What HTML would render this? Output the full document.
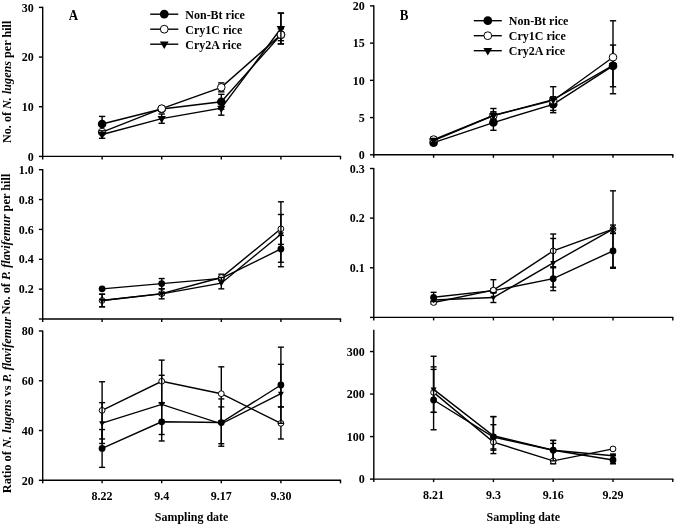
<!DOCTYPE html>
<html><head><meta charset="utf-8"><style>
html,body{margin:0;padding:0;background:#fff;}
svg{display:block;will-change:transform;}
text{font-family:"Liberation Serif", serif;font-weight:bold;fill:#000;stroke:none;}
</style></head><body>
<svg width="675" height="526" viewBox="0 0 675 526">
<rect width="675" height="526" fill="#fff"/>
<g stroke="#000" fill="none">
<line x1="42.70" y1="6.80" x2="42.70" y2="159.40" stroke-width="1.4"/>
<line x1="42.10" y1="156.40" x2="341.10" y2="156.40" stroke-width="1.4"/>
<line x1="38.90" y1="156.40" x2="42.70" y2="156.40" stroke-width="1.4"/>
<line x1="38.90" y1="106.73" x2="42.70" y2="106.73" stroke-width="1.4"/>
<line x1="38.90" y1="57.07" x2="42.70" y2="57.07" stroke-width="1.4"/>
<line x1="38.90" y1="7.40" x2="42.70" y2="7.40" stroke-width="1.4"/>
<text transform="translate(33.70,160.60) scale(1,1.04)" text-anchor="end" font-size="12" >0</text>
<text transform="translate(33.70,110.93) scale(1,1.04)" text-anchor="end" font-size="12" >10</text>
<text transform="translate(33.70,61.27) scale(1,1.04)" text-anchor="end" font-size="12" >20</text>
<text transform="translate(33.70,11.60) scale(1,1.04)" text-anchor="end" font-size="12" >30</text>
<line x1="102.10" y1="156.40" x2="102.10" y2="159.40" stroke-width="1.4"/>
<line x1="161.70" y1="156.40" x2="161.70" y2="159.40" stroke-width="1.4"/>
<line x1="221.30" y1="156.40" x2="221.30" y2="159.40" stroke-width="1.4"/>
<line x1="280.90" y1="156.40" x2="280.90" y2="159.40" stroke-width="1.4"/>
<line x1="340.50" y1="156.40" x2="340.50" y2="159.40" stroke-width="1.4"/>
<line x1="42.70" y1="169.10" x2="42.70" y2="322.00" stroke-width="1.4"/>
<line x1="42.10" y1="319.00" x2="341.10" y2="319.00" stroke-width="1.4"/>
<line x1="38.90" y1="319.00" x2="42.70" y2="319.00" stroke-width="1.4"/>
<line x1="38.90" y1="289.14" x2="42.70" y2="289.14" stroke-width="1.4"/>
<line x1="38.90" y1="259.28" x2="42.70" y2="259.28" stroke-width="1.4"/>
<line x1="38.90" y1="229.42" x2="42.70" y2="229.42" stroke-width="1.4"/>
<line x1="38.90" y1="199.56" x2="42.70" y2="199.56" stroke-width="1.4"/>
<line x1="38.90" y1="169.70" x2="42.70" y2="169.70" stroke-width="1.4"/>
<text transform="translate(33.70,293.34) scale(1,1.04)" text-anchor="end" font-size="12" >0.2</text>
<text transform="translate(33.70,263.48) scale(1,1.04)" text-anchor="end" font-size="12" >0.4</text>
<text transform="translate(33.70,233.62) scale(1,1.04)" text-anchor="end" font-size="12" >0.6</text>
<text transform="translate(33.70,203.76) scale(1,1.04)" text-anchor="end" font-size="12" >0.8</text>
<text transform="translate(33.70,173.90) scale(1,1.04)" text-anchor="end" font-size="12" >1.0</text>
<line x1="102.10" y1="319.00" x2="102.10" y2="322.00" stroke-width="1.4"/>
<line x1="161.70" y1="319.00" x2="161.70" y2="322.00" stroke-width="1.4"/>
<line x1="221.30" y1="319.00" x2="221.30" y2="322.00" stroke-width="1.4"/>
<line x1="280.90" y1="319.00" x2="280.90" y2="322.00" stroke-width="1.4"/>
<line x1="340.50" y1="319.00" x2="340.50" y2="322.00" stroke-width="1.4"/>
<line x1="42.70" y1="330.40" x2="42.70" y2="483.30" stroke-width="1.4"/>
<line x1="42.10" y1="480.30" x2="341.10" y2="480.30" stroke-width="1.4"/>
<line x1="38.90" y1="480.30" x2="42.70" y2="480.30" stroke-width="1.4"/>
<line x1="38.90" y1="430.53" x2="42.70" y2="430.53" stroke-width="1.4"/>
<line x1="38.90" y1="380.77" x2="42.70" y2="380.77" stroke-width="1.4"/>
<line x1="38.90" y1="331.00" x2="42.70" y2="331.00" stroke-width="1.4"/>
<text transform="translate(33.70,484.50) scale(1,1.04)" text-anchor="end" font-size="12" >20</text>
<text transform="translate(33.70,434.73) scale(1,1.04)" text-anchor="end" font-size="12" >40</text>
<text transform="translate(33.70,384.97) scale(1,1.04)" text-anchor="end" font-size="12" >60</text>
<text transform="translate(33.70,335.20) scale(1,1.04)" text-anchor="end" font-size="12" >80</text>
<line x1="102.10" y1="480.30" x2="102.10" y2="483.30" stroke-width="1.4"/>
<line x1="161.70" y1="480.30" x2="161.70" y2="483.30" stroke-width="1.4"/>
<line x1="221.30" y1="480.30" x2="221.30" y2="483.30" stroke-width="1.4"/>
<line x1="280.90" y1="480.30" x2="280.90" y2="483.30" stroke-width="1.4"/>
<line x1="340.50" y1="480.30" x2="340.50" y2="483.30" stroke-width="1.4"/>
<line x1="373.80" y1="5.30" x2="373.80" y2="157.80" stroke-width="1.4"/>
<line x1="373.20" y1="154.80" x2="673.40" y2="154.80" stroke-width="1.4"/>
<line x1="370.00" y1="154.80" x2="373.80" y2="154.80" stroke-width="1.4"/>
<line x1="370.00" y1="117.58" x2="373.80" y2="117.58" stroke-width="1.4"/>
<line x1="370.00" y1="80.35" x2="373.80" y2="80.35" stroke-width="1.4"/>
<line x1="370.00" y1="43.13" x2="373.80" y2="43.13" stroke-width="1.4"/>
<line x1="370.00" y1="5.90" x2="373.80" y2="5.90" stroke-width="1.4"/>
<text transform="translate(364.80,159.00) scale(1,1.04)" text-anchor="end" font-size="12" >0</text>
<text transform="translate(364.80,121.78) scale(1,1.04)" text-anchor="end" font-size="12" >5</text>
<text transform="translate(364.80,84.55) scale(1,1.04)" text-anchor="end" font-size="12" >10</text>
<text transform="translate(364.80,47.33) scale(1,1.04)" text-anchor="end" font-size="12" >15</text>
<text transform="translate(364.80,10.10) scale(1,1.04)" text-anchor="end" font-size="12" >20</text>
<line x1="433.60" y1="154.80" x2="433.60" y2="157.80" stroke-width="1.4"/>
<line x1="493.40" y1="154.80" x2="493.40" y2="157.80" stroke-width="1.4"/>
<line x1="553.20" y1="154.80" x2="553.20" y2="157.80" stroke-width="1.4"/>
<line x1="613.00" y1="154.80" x2="613.00" y2="157.80" stroke-width="1.4"/>
<line x1="672.80" y1="154.80" x2="672.80" y2="157.80" stroke-width="1.4"/>
<line x1="373.80" y1="167.90" x2="373.80" y2="320.40" stroke-width="1.4"/>
<line x1="373.20" y1="317.40" x2="673.40" y2="317.40" stroke-width="1.4"/>
<line x1="370.00" y1="317.40" x2="373.80" y2="317.40" stroke-width="1.4"/>
<line x1="370.00" y1="267.77" x2="373.80" y2="267.77" stroke-width="1.4"/>
<line x1="370.00" y1="218.13" x2="373.80" y2="218.13" stroke-width="1.4"/>
<line x1="370.00" y1="168.50" x2="373.80" y2="168.50" stroke-width="1.4"/>
<text transform="translate(364.80,271.97) scale(1,1.04)" text-anchor="end" font-size="12" >0.1</text>
<text transform="translate(364.80,222.33) scale(1,1.04)" text-anchor="end" font-size="12" >0.2</text>
<text transform="translate(364.80,172.70) scale(1,1.04)" text-anchor="end" font-size="12" >0.3</text>
<line x1="433.60" y1="317.40" x2="433.60" y2="320.40" stroke-width="1.4"/>
<line x1="493.40" y1="317.40" x2="493.40" y2="320.40" stroke-width="1.4"/>
<line x1="553.20" y1="317.40" x2="553.20" y2="320.40" stroke-width="1.4"/>
<line x1="613.00" y1="317.40" x2="613.00" y2="320.40" stroke-width="1.4"/>
<line x1="672.80" y1="317.40" x2="672.80" y2="320.40" stroke-width="1.4"/>
<line x1="373.80" y1="329.70" x2="373.80" y2="482.10" stroke-width="1.4"/>
<line x1="373.20" y1="479.10" x2="673.40" y2="479.10" stroke-width="1.4"/>
<line x1="370.00" y1="479.10" x2="373.80" y2="479.10" stroke-width="1.4"/>
<line x1="370.00" y1="436.59" x2="373.80" y2="436.59" stroke-width="1.4"/>
<line x1="370.00" y1="394.07" x2="373.80" y2="394.07" stroke-width="1.4"/>
<line x1="370.00" y1="351.56" x2="373.80" y2="351.56" stroke-width="1.4"/>
<text transform="translate(364.80,483.30) scale(1,1.04)" text-anchor="end" font-size="12" >0</text>
<text transform="translate(364.80,440.79) scale(1,1.04)" text-anchor="end" font-size="12" >100</text>
<text transform="translate(364.80,398.27) scale(1,1.04)" text-anchor="end" font-size="12" >200</text>
<text transform="translate(364.80,355.76) scale(1,1.04)" text-anchor="end" font-size="12" >300</text>
<line x1="433.60" y1="479.10" x2="433.60" y2="482.10" stroke-width="1.4"/>
<line x1="493.40" y1="479.10" x2="493.40" y2="482.10" stroke-width="1.4"/>
<line x1="553.20" y1="479.10" x2="553.20" y2="482.10" stroke-width="1.4"/>
<line x1="613.00" y1="479.10" x2="613.00" y2="482.10" stroke-width="1.4"/>
<line x1="672.80" y1="479.10" x2="672.80" y2="482.10" stroke-width="1.4"/>
<line x1="102.10" y1="116.42" x2="102.10" y2="131.52" stroke-width="1.4"/>
<line x1="98.95" y1="116.42" x2="105.25" y2="116.42" stroke-width="1.4"/>
<line x1="98.95" y1="131.52" x2="105.25" y2="131.52" stroke-width="1.4"/>
<line x1="161.70" y1="106.98" x2="161.70" y2="110.95" stroke-width="1.4"/>
<line x1="158.55" y1="106.98" x2="164.85" y2="106.98" stroke-width="1.4"/>
<line x1="158.55" y1="110.95" x2="164.85" y2="110.95" stroke-width="1.4"/>
<line x1="221.30" y1="94.32" x2="221.30" y2="109.22" stroke-width="1.4"/>
<line x1="218.15" y1="94.32" x2="224.45" y2="94.32" stroke-width="1.4"/>
<line x1="218.15" y1="109.22" x2="224.45" y2="109.22" stroke-width="1.4"/>
<line x1="280.90" y1="32.23" x2="280.90" y2="37.20" stroke-width="1.4"/>
<line x1="277.75" y1="32.23" x2="284.05" y2="32.23" stroke-width="1.4"/>
<line x1="277.75" y1="37.20" x2="284.05" y2="37.20" stroke-width="1.4"/>
<polyline points="102.10,123.97 161.70,108.97 221.30,101.77 280.90,34.72" fill="none" stroke-width="1.4"/>
<circle cx="102.10" cy="123.97" r="4.30" fill="#000" stroke="none"/>
<circle cx="161.70" cy="108.97" r="4.30" fill="#000" stroke="none"/>
<circle cx="221.30" cy="101.77" r="4.30" fill="#000" stroke="none"/>
<circle cx="280.90" cy="34.72" r="4.30" fill="#000" stroke="none"/>
<line x1="102.10" y1="130.57" x2="102.10" y2="133.55" stroke-width="1.4"/>
<line x1="98.95" y1="130.57" x2="105.25" y2="130.57" stroke-width="1.4"/>
<line x1="98.95" y1="133.55" x2="105.25" y2="133.55" stroke-width="1.4"/>
<line x1="161.70" y1="106.63" x2="161.70" y2="110.61" stroke-width="1.4"/>
<line x1="158.55" y1="106.63" x2="164.85" y2="106.63" stroke-width="1.4"/>
<line x1="158.55" y1="110.61" x2="164.85" y2="110.61" stroke-width="1.4"/>
<line x1="221.30" y1="82.89" x2="221.30" y2="91.83" stroke-width="1.4"/>
<line x1="218.15" y1="82.89" x2="224.45" y2="82.89" stroke-width="1.4"/>
<line x1="218.15" y1="91.83" x2="224.45" y2="91.83" stroke-width="1.4"/>
<line x1="280.90" y1="28.76" x2="280.90" y2="40.68" stroke-width="1.4"/>
<line x1="277.75" y1="28.76" x2="284.05" y2="28.76" stroke-width="1.4"/>
<line x1="277.75" y1="40.68" x2="284.05" y2="40.68" stroke-width="1.4"/>
<polyline points="102.10,132.06 161.70,108.62 221.30,87.36 280.90,34.72" fill="none" stroke-width="1.4"/>
<circle cx="102.10" cy="132.06" r="3.80" fill="#fff" stroke="#000" stroke-width="1"/>
<circle cx="161.70" cy="108.62" r="3.80" fill="#fff" stroke="#000" stroke-width="1"/>
<circle cx="221.30" cy="87.36" r="3.80" fill="#fff" stroke="#000" stroke-width="1"/>
<circle cx="280.90" cy="34.72" r="3.80" fill="#fff" stroke="#000" stroke-width="1"/>
<line x1="102.10" y1="130.82" x2="102.10" y2="138.27" stroke-width="1.4"/>
<line x1="98.95" y1="130.82" x2="105.25" y2="130.82" stroke-width="1.4"/>
<line x1="98.95" y1="138.27" x2="105.25" y2="138.27" stroke-width="1.4"/>
<line x1="161.70" y1="114.03" x2="161.70" y2="123.27" stroke-width="1.4"/>
<line x1="158.55" y1="114.03" x2="164.85" y2="114.03" stroke-width="1.4"/>
<line x1="158.55" y1="123.27" x2="164.85" y2="123.27" stroke-width="1.4"/>
<line x1="221.30" y1="101.27" x2="221.30" y2="115.18" stroke-width="1.4"/>
<line x1="218.15" y1="101.27" x2="224.45" y2="101.27" stroke-width="1.4"/>
<line x1="218.15" y1="115.18" x2="224.45" y2="115.18" stroke-width="1.4"/>
<line x1="280.90" y1="13.11" x2="280.90" y2="43.91" stroke-width="1.4"/>
<line x1="277.75" y1="13.11" x2="284.05" y2="13.11" stroke-width="1.4"/>
<line x1="277.75" y1="43.91" x2="284.05" y2="43.91" stroke-width="1.4"/>
<polyline points="102.10,134.55 161.70,118.65 221.30,108.22 280.90,28.51" fill="none" stroke-width="1.4"/>
<path d="M97.90,131.98 L106.30,131.98 L102.10,139.21 Z" fill="#000" stroke="none"/>
<path d="M157.50,116.09 L165.90,116.09 L161.70,123.31 Z" fill="#000" stroke="none"/>
<path d="M217.10,105.66 L225.50,105.66 L221.30,112.88 Z" fill="#000" stroke="none"/>
<path d="M276.70,25.94 L285.10,25.94 L280.90,33.17 Z" fill="#000" stroke="none"/>
<circle cx="280.90" cy="34.72" r="3.80" fill="#fff" stroke="#000" stroke-width="1"/>
<line x1="280.90" y1="13.11" x2="280.90" y2="43.91" stroke-width="1.4"/>
<line x1="277.75" y1="13.11" x2="284.05" y2="13.11" stroke-width="1.4"/>
<line x1="277.75" y1="43.91" x2="284.05" y2="43.91" stroke-width="1.4"/>
<line x1="161.70" y1="278.54" x2="161.70" y2="288.69" stroke-width="1.4"/>
<line x1="158.70" y1="278.54" x2="164.70" y2="278.54" stroke-width="1.4"/>
<line x1="158.70" y1="288.69" x2="164.70" y2="288.69" stroke-width="1.4"/>
<line x1="221.30" y1="276.90" x2="221.30" y2="279.88" stroke-width="1.4"/>
<line x1="218.30" y1="276.90" x2="224.30" y2="276.90" stroke-width="1.4"/>
<line x1="218.30" y1="279.88" x2="224.30" y2="279.88" stroke-width="1.4"/>
<line x1="280.90" y1="235.39" x2="280.90" y2="262.27" stroke-width="1.4"/>
<line x1="277.90" y1="235.39" x2="283.90" y2="235.39" stroke-width="1.4"/>
<line x1="277.90" y1="262.27" x2="283.90" y2="262.27" stroke-width="1.4"/>
<polyline points="102.10,288.84 161.70,283.62 221.30,278.39 280.90,248.98" fill="none" stroke-width="1.4"/>
<circle cx="102.10" cy="288.84" r="3.40" fill="#000" stroke="none"/>
<circle cx="161.70" cy="283.62" r="3.40" fill="#000" stroke="none"/>
<circle cx="221.30" cy="278.39" r="3.40" fill="#000" stroke="none"/>
<circle cx="280.90" cy="248.98" r="3.40" fill="#000" stroke="none"/>
<line x1="102.10" y1="294.22" x2="102.10" y2="306.76" stroke-width="1.4"/>
<line x1="99.10" y1="294.22" x2="105.10" y2="294.22" stroke-width="1.4"/>
<line x1="99.10" y1="306.76" x2="105.10" y2="306.76" stroke-width="1.4"/>
<line x1="161.70" y1="292.13" x2="161.70" y2="295.11" stroke-width="1.4"/>
<line x1="158.70" y1="292.13" x2="164.70" y2="292.13" stroke-width="1.4"/>
<line x1="158.70" y1="295.11" x2="164.70" y2="295.11" stroke-width="1.4"/>
<line x1="221.30" y1="274.21" x2="221.30" y2="280.18" stroke-width="1.4"/>
<line x1="218.30" y1="274.21" x2="224.30" y2="274.21" stroke-width="1.4"/>
<line x1="218.30" y1="280.18" x2="224.30" y2="280.18" stroke-width="1.4"/>
<line x1="280.90" y1="201.80" x2="280.90" y2="266.75" stroke-width="1.4"/>
<line x1="277.90" y1="201.80" x2="283.90" y2="201.80" stroke-width="1.4"/>
<line x1="277.90" y1="266.75" x2="283.90" y2="266.75" stroke-width="1.4"/>
<polyline points="102.10,300.49 161.70,293.62 221.30,277.49 280.90,228.82" fill="none" stroke-width="1.4"/>
<circle cx="102.10" cy="300.49" r="2.90" fill="#fff" stroke="#000" stroke-width="1"/>
<circle cx="161.70" cy="293.62" r="2.90" fill="#fff" stroke="#000" stroke-width="1"/>
<circle cx="221.30" cy="277.49" r="2.90" fill="#fff" stroke="#000" stroke-width="1"/>
<circle cx="280.90" cy="228.82" r="2.90" fill="#fff" stroke="#000" stroke-width="1"/>
<line x1="102.10" y1="294.22" x2="102.10" y2="306.76" stroke-width="1.4"/>
<line x1="99.10" y1="294.22" x2="105.10" y2="294.22" stroke-width="1.4"/>
<line x1="99.10" y1="306.76" x2="105.10" y2="306.76" stroke-width="1.4"/>
<line x1="161.70" y1="288.99" x2="161.70" y2="298.84" stroke-width="1.4"/>
<line x1="158.70" y1="288.99" x2="164.70" y2="288.99" stroke-width="1.4"/>
<line x1="158.70" y1="298.84" x2="164.70" y2="298.84" stroke-width="1.4"/>
<line x1="221.30" y1="277.49" x2="221.30" y2="288.84" stroke-width="1.4"/>
<line x1="218.30" y1="277.49" x2="224.30" y2="277.49" stroke-width="1.4"/>
<line x1="218.30" y1="288.84" x2="224.30" y2="288.84" stroke-width="1.4"/>
<line x1="280.90" y1="214.49" x2="280.90" y2="244.35" stroke-width="1.4"/>
<line x1="277.90" y1="214.49" x2="283.90" y2="214.49" stroke-width="1.4"/>
<line x1="277.90" y1="244.35" x2="283.90" y2="244.35" stroke-width="1.4"/>
<polyline points="102.10,300.49 161.70,293.92 221.30,283.17 280.90,234.20" fill="none" stroke-width="1.4"/>
<path d="M99.10,298.66 L105.10,298.66 L102.10,303.82 Z" fill="#000" stroke="none"/>
<path d="M158.70,292.09 L164.70,292.09 L161.70,297.25 Z" fill="#000" stroke="none"/>
<path d="M218.30,281.34 L224.30,281.34 L221.30,286.50 Z" fill="#000" stroke="none"/>
<path d="M277.90,232.37 L283.90,232.37 L280.90,237.53 Z" fill="#000" stroke="none"/>
<line x1="102.10" y1="429.54" x2="102.10" y2="467.36" stroke-width="1.4"/>
<line x1="99.10" y1="429.54" x2="105.10" y2="429.54" stroke-width="1.4"/>
<line x1="99.10" y1="467.36" x2="105.10" y2="467.36" stroke-width="1.4"/>
<line x1="161.70" y1="402.66" x2="161.70" y2="440.98" stroke-width="1.4"/>
<line x1="158.70" y1="402.66" x2="164.70" y2="402.66" stroke-width="1.4"/>
<line x1="158.70" y1="440.98" x2="164.70" y2="440.98" stroke-width="1.4"/>
<line x1="221.30" y1="398.93" x2="221.30" y2="446.21" stroke-width="1.4"/>
<line x1="218.30" y1="398.93" x2="224.30" y2="398.93" stroke-width="1.4"/>
<line x1="218.30" y1="446.21" x2="224.30" y2="446.21" stroke-width="1.4"/>
<line x1="280.90" y1="364.34" x2="280.90" y2="406.89" stroke-width="1.4"/>
<line x1="277.90" y1="364.34" x2="283.90" y2="364.34" stroke-width="1.4"/>
<line x1="277.90" y1="406.89" x2="283.90" y2="406.89" stroke-width="1.4"/>
<polyline points="102.10,448.45 161.70,421.82 221.30,422.57 280.90,385.00" fill="none" stroke-width="1.4"/>
<circle cx="102.10" cy="448.45" r="3.40" fill="#000" stroke="none"/>
<circle cx="161.70" cy="421.82" r="3.40" fill="#000" stroke="none"/>
<circle cx="221.30" cy="422.57" r="3.40" fill="#000" stroke="none"/>
<circle cx="280.90" cy="385.00" r="3.40" fill="#000" stroke="none"/>
<line x1="102.10" y1="381.76" x2="102.10" y2="438.99" stroke-width="1.4"/>
<line x1="99.10" y1="381.76" x2="105.10" y2="381.76" stroke-width="1.4"/>
<line x1="99.10" y1="438.99" x2="105.10" y2="438.99" stroke-width="1.4"/>
<line x1="161.70" y1="360.11" x2="161.70" y2="402.66" stroke-width="1.4"/>
<line x1="158.70" y1="360.11" x2="164.70" y2="360.11" stroke-width="1.4"/>
<line x1="158.70" y1="402.66" x2="164.70" y2="402.66" stroke-width="1.4"/>
<line x1="221.30" y1="366.83" x2="221.30" y2="420.83" stroke-width="1.4"/>
<line x1="218.30" y1="366.83" x2="224.30" y2="366.83" stroke-width="1.4"/>
<line x1="218.30" y1="420.83" x2="224.30" y2="420.83" stroke-width="1.4"/>
<line x1="280.90" y1="406.89" x2="280.90" y2="438.99" stroke-width="1.4"/>
<line x1="277.90" y1="406.89" x2="283.90" y2="406.89" stroke-width="1.4"/>
<line x1="277.90" y1="438.99" x2="283.90" y2="438.99" stroke-width="1.4"/>
<polyline points="102.10,410.38 161.70,381.26 221.30,393.71 280.90,423.32" fill="none" stroke-width="1.4"/>
<circle cx="102.10" cy="410.38" r="2.90" fill="#fff" stroke="#000" stroke-width="1"/>
<circle cx="161.70" cy="381.26" r="2.90" fill="#fff" stroke="#000" stroke-width="1"/>
<circle cx="221.30" cy="393.71" r="2.90" fill="#fff" stroke="#000" stroke-width="1"/>
<circle cx="280.90" cy="423.32" r="2.90" fill="#fff" stroke="#000" stroke-width="1"/>
<line x1="102.10" y1="402.66" x2="102.10" y2="443.47" stroke-width="1.4"/>
<line x1="99.10" y1="402.66" x2="105.10" y2="402.66" stroke-width="1.4"/>
<line x1="99.10" y1="443.47" x2="105.10" y2="443.47" stroke-width="1.4"/>
<line x1="161.70" y1="375.29" x2="161.70" y2="434.51" stroke-width="1.4"/>
<line x1="158.70" y1="375.29" x2="164.70" y2="375.29" stroke-width="1.4"/>
<line x1="158.70" y1="434.51" x2="164.70" y2="434.51" stroke-width="1.4"/>
<line x1="221.30" y1="406.89" x2="221.30" y2="443.72" stroke-width="1.4"/>
<line x1="218.30" y1="406.89" x2="224.30" y2="406.89" stroke-width="1.4"/>
<line x1="218.30" y1="443.72" x2="224.30" y2="443.72" stroke-width="1.4"/>
<line x1="280.90" y1="347.17" x2="280.90" y2="423.32" stroke-width="1.4"/>
<line x1="277.90" y1="347.17" x2="283.90" y2="347.17" stroke-width="1.4"/>
<line x1="277.90" y1="423.32" x2="283.90" y2="423.32" stroke-width="1.4"/>
<polyline points="102.10,423.07 161.70,404.41 221.30,423.81 280.90,393.71" fill="none" stroke-width="1.4"/>
<path d="M99.10,421.24 L105.10,421.24 L102.10,426.40 Z" fill="#000" stroke="none"/>
<path d="M158.70,402.57 L164.70,402.57 L161.70,407.73 Z" fill="#000" stroke="none"/>
<path d="M218.30,421.98 L224.30,421.98 L221.30,427.14 Z" fill="#000" stroke="none"/>
<path d="M277.90,391.87 L283.90,391.87 L280.90,397.03 Z" fill="#000" stroke="none"/>
<line x1="433.60" y1="140.43" x2="433.60" y2="144.90" stroke-width="1.4"/>
<line x1="430.45" y1="140.43" x2="436.75" y2="140.43" stroke-width="1.4"/>
<line x1="430.45" y1="144.90" x2="436.75" y2="144.90" stroke-width="1.4"/>
<line x1="493.40" y1="114.82" x2="493.40" y2="130.31" stroke-width="1.4"/>
<line x1="490.25" y1="114.82" x2="496.55" y2="114.82" stroke-width="1.4"/>
<line x1="490.25" y1="130.31" x2="496.55" y2="130.31" stroke-width="1.4"/>
<line x1="553.20" y1="98.22" x2="553.20" y2="110.43" stroke-width="1.4"/>
<line x1="550.05" y1="98.22" x2="556.35" y2="98.22" stroke-width="1.4"/>
<line x1="550.05" y1="110.43" x2="556.35" y2="110.43" stroke-width="1.4"/>
<line x1="613.00" y1="45.06" x2="613.00" y2="86.75" stroke-width="1.4"/>
<line x1="609.85" y1="45.06" x2="616.15" y2="45.06" stroke-width="1.4"/>
<line x1="609.85" y1="86.75" x2="616.15" y2="86.75" stroke-width="1.4"/>
<polyline points="433.60,142.66 493.40,122.56 553.20,104.32 613.00,65.91" fill="none" stroke-width="1.4"/>
<circle cx="433.60" cy="142.66" r="4.30" fill="#000" stroke="none"/>
<circle cx="493.40" cy="122.56" r="4.30" fill="#000" stroke="none"/>
<circle cx="553.20" cy="104.32" r="4.30" fill="#000" stroke="none"/>
<circle cx="613.00" cy="65.91" r="4.30" fill="#000" stroke="none"/>
<line x1="433.60" y1="137.30" x2="433.60" y2="141.77" stroke-width="1.4"/>
<line x1="430.45" y1="137.30" x2="436.75" y2="137.30" stroke-width="1.4"/>
<line x1="430.45" y1="141.77" x2="436.75" y2="141.77" stroke-width="1.4"/>
<line x1="493.40" y1="108.49" x2="493.40" y2="122.49" stroke-width="1.4"/>
<line x1="490.25" y1="108.49" x2="496.55" y2="108.49" stroke-width="1.4"/>
<line x1="490.25" y1="122.49" x2="496.55" y2="122.49" stroke-width="1.4"/>
<line x1="553.20" y1="96.73" x2="553.20" y2="104.17" stroke-width="1.4"/>
<line x1="550.05" y1="96.73" x2="556.35" y2="96.73" stroke-width="1.4"/>
<line x1="550.05" y1="104.17" x2="556.35" y2="104.17" stroke-width="1.4"/>
<line x1="613.00" y1="20.79" x2="613.00" y2="93.75" stroke-width="1.4"/>
<line x1="609.85" y1="20.79" x2="616.15" y2="20.79" stroke-width="1.4"/>
<line x1="609.85" y1="93.75" x2="616.15" y2="93.75" stroke-width="1.4"/>
<polyline points="433.60,139.54 493.40,115.49 553.20,100.45 613.00,57.27" fill="none" stroke-width="1.4"/>
<circle cx="433.60" cy="139.54" r="3.80" fill="#fff" stroke="#000" stroke-width="1"/>
<circle cx="493.40" cy="115.49" r="3.80" fill="#fff" stroke="#000" stroke-width="1"/>
<circle cx="553.20" cy="100.45" r="3.80" fill="#fff" stroke="#000" stroke-width="1"/>
<circle cx="613.00" cy="57.27" r="3.80" fill="#fff" stroke="#000" stroke-width="1"/>
<line x1="433.60" y1="138.42" x2="433.60" y2="142.89" stroke-width="1.4"/>
<line x1="430.45" y1="138.42" x2="436.75" y2="138.42" stroke-width="1.4"/>
<line x1="430.45" y1="142.89" x2="436.75" y2="142.89" stroke-width="1.4"/>
<line x1="493.40" y1="111.77" x2="493.40" y2="119.21" stroke-width="1.4"/>
<line x1="490.25" y1="111.77" x2="496.55" y2="111.77" stroke-width="1.4"/>
<line x1="490.25" y1="119.21" x2="496.55" y2="119.21" stroke-width="1.4"/>
<line x1="553.20" y1="86.68" x2="553.20" y2="112.74" stroke-width="1.4"/>
<line x1="550.05" y1="86.68" x2="556.35" y2="86.68" stroke-width="1.4"/>
<line x1="550.05" y1="112.74" x2="556.35" y2="112.74" stroke-width="1.4"/>
<line x1="613.00" y1="63.23" x2="613.00" y2="67.69" stroke-width="1.4"/>
<line x1="609.85" y1="63.23" x2="616.15" y2="63.23" stroke-width="1.4"/>
<line x1="609.85" y1="67.69" x2="616.15" y2="67.69" stroke-width="1.4"/>
<polyline points="433.60,140.65 493.40,115.49 553.20,99.71 613.00,65.46" fill="none" stroke-width="1.4"/>
<path d="M429.40,138.09 L437.80,138.09 L433.60,145.31 Z" fill="#000" stroke="none"/>
<path d="M489.20,112.93 L497.60,112.93 L493.40,120.15 Z" fill="#000" stroke="none"/>
<path d="M549.00,97.14 L557.40,97.14 L553.20,104.37 Z" fill="#000" stroke="none"/>
<path d="M608.80,62.90 L617.20,62.90 L613.00,70.12 Z" fill="#000" stroke="none"/>
<line x1="433.60" y1="292.34" x2="433.60" y2="302.26" stroke-width="1.4"/>
<line x1="430.60" y1="292.34" x2="436.60" y2="292.34" stroke-width="1.4"/>
<line x1="430.60" y1="302.26" x2="436.60" y2="302.26" stroke-width="1.4"/>
<line x1="493.40" y1="288.61" x2="493.40" y2="292.58" stroke-width="1.4"/>
<line x1="490.40" y1="288.61" x2="496.40" y2="288.61" stroke-width="1.4"/>
<line x1="490.40" y1="292.58" x2="496.40" y2="292.58" stroke-width="1.4"/>
<line x1="553.20" y1="266.77" x2="553.20" y2="290.60" stroke-width="1.4"/>
<line x1="550.20" y1="266.77" x2="556.20" y2="266.77" stroke-width="1.4"/>
<line x1="550.20" y1="290.60" x2="556.20" y2="290.60" stroke-width="1.4"/>
<line x1="613.00" y1="233.52" x2="613.00" y2="268.26" stroke-width="1.4"/>
<line x1="610.00" y1="233.52" x2="616.00" y2="233.52" stroke-width="1.4"/>
<line x1="610.00" y1="268.26" x2="616.00" y2="268.26" stroke-width="1.4"/>
<polyline points="433.60,297.30 493.40,290.60 553.20,278.69 613.00,250.89" fill="none" stroke-width="1.4"/>
<circle cx="433.60" cy="297.30" r="3.40" fill="#000" stroke="none"/>
<circle cx="493.40" cy="290.60" r="3.40" fill="#000" stroke="none"/>
<circle cx="553.20" cy="278.69" r="3.40" fill="#000" stroke="none"/>
<circle cx="613.00" cy="250.89" r="3.40" fill="#000" stroke="none"/>
<line x1="433.60" y1="301.02" x2="433.60" y2="304.00" stroke-width="1.4"/>
<line x1="430.60" y1="301.02" x2="436.60" y2="301.02" stroke-width="1.4"/>
<line x1="430.60" y1="304.00" x2="436.60" y2="304.00" stroke-width="1.4"/>
<line x1="493.40" y1="279.68" x2="493.40" y2="292.58" stroke-width="1.4"/>
<line x1="490.40" y1="279.68" x2="496.40" y2="279.68" stroke-width="1.4"/>
<line x1="490.40" y1="292.58" x2="496.40" y2="292.58" stroke-width="1.4"/>
<line x1="553.20" y1="234.02" x2="553.20" y2="267.77" stroke-width="1.4"/>
<line x1="550.20" y1="234.02" x2="556.20" y2="234.02" stroke-width="1.4"/>
<line x1="550.20" y1="267.77" x2="556.20" y2="267.77" stroke-width="1.4"/>
<line x1="613.00" y1="190.83" x2="613.00" y2="267.27" stroke-width="1.4"/>
<line x1="610.00" y1="190.83" x2="616.00" y2="190.83" stroke-width="1.4"/>
<line x1="610.00" y1="267.27" x2="616.00" y2="267.27" stroke-width="1.4"/>
<polyline points="433.60,302.51 493.40,290.20 553.20,250.89 613.00,229.05" fill="none" stroke-width="1.4"/>
<circle cx="433.60" cy="302.51" r="2.90" fill="#fff" stroke="#000" stroke-width="1"/>
<circle cx="493.40" cy="290.20" r="2.90" fill="#fff" stroke="#000" stroke-width="1"/>
<circle cx="553.20" cy="250.89" r="2.90" fill="#fff" stroke="#000" stroke-width="1"/>
<circle cx="613.00" cy="229.05" r="2.90" fill="#fff" stroke="#000" stroke-width="1"/>
<line x1="433.60" y1="298.54" x2="433.60" y2="301.52" stroke-width="1.4"/>
<line x1="430.60" y1="298.54" x2="436.60" y2="298.54" stroke-width="1.4"/>
<line x1="430.60" y1="301.52" x2="436.60" y2="301.52" stroke-width="1.4"/>
<line x1="493.40" y1="292.58" x2="493.40" y2="302.51" stroke-width="1.4"/>
<line x1="490.40" y1="292.58" x2="496.40" y2="292.58" stroke-width="1.4"/>
<line x1="490.40" y1="302.51" x2="496.40" y2="302.51" stroke-width="1.4"/>
<line x1="553.20" y1="238.48" x2="553.20" y2="287.12" stroke-width="1.4"/>
<line x1="550.20" y1="238.48" x2="556.20" y2="238.48" stroke-width="1.4"/>
<line x1="550.20" y1="287.12" x2="556.20" y2="287.12" stroke-width="1.4"/>
<line x1="613.00" y1="225.08" x2="613.00" y2="233.02" stroke-width="1.4"/>
<line x1="610.00" y1="225.08" x2="616.00" y2="225.08" stroke-width="1.4"/>
<line x1="610.00" y1="233.02" x2="616.00" y2="233.02" stroke-width="1.4"/>
<polyline points="433.60,300.03 493.40,297.55 553.20,262.80 613.00,229.05" fill="none" stroke-width="1.4"/>
<path d="M430.60,298.20 L436.60,298.20 L433.60,303.36 Z" fill="#000" stroke="none"/>
<path d="M490.40,295.71 L496.40,295.71 L493.40,300.87 Z" fill="#000" stroke="none"/>
<path d="M550.20,260.97 L556.20,260.97 L553.20,266.13 Z" fill="#000" stroke="none"/>
<path d="M610.00,227.22 L616.00,227.22 L613.00,232.38 Z" fill="#000" stroke="none"/>
<line x1="433.60" y1="369.41" x2="433.60" y2="429.78" stroke-width="1.4"/>
<line x1="430.60" y1="369.41" x2="436.60" y2="369.41" stroke-width="1.4"/>
<line x1="430.60" y1="429.78" x2="436.60" y2="429.78" stroke-width="1.4"/>
<line x1="493.40" y1="424.68" x2="493.40" y2="453.59" stroke-width="1.4"/>
<line x1="490.40" y1="424.68" x2="496.40" y2="424.68" stroke-width="1.4"/>
<line x1="490.40" y1="453.59" x2="496.40" y2="453.59" stroke-width="1.4"/>
<line x1="553.20" y1="440.41" x2="553.20" y2="463.79" stroke-width="1.4"/>
<line x1="550.20" y1="440.41" x2="556.20" y2="440.41" stroke-width="1.4"/>
<line x1="550.20" y1="463.79" x2="556.20" y2="463.79" stroke-width="1.4"/>
<line x1="613.00" y1="455.72" x2="613.00" y2="463.79" stroke-width="1.4"/>
<line x1="610.00" y1="455.72" x2="616.00" y2="455.72" stroke-width="1.4"/>
<line x1="610.00" y1="463.79" x2="616.00" y2="463.79" stroke-width="1.4"/>
<polyline points="433.60,400.02 493.40,437.01 553.20,450.19 613.00,459.97" fill="none" stroke-width="1.4"/>
<circle cx="433.60" cy="400.02" r="3.40" fill="#000" stroke="none"/>
<circle cx="493.40" cy="437.01" r="3.40" fill="#000" stroke="none"/>
<circle cx="553.20" cy="450.19" r="3.40" fill="#000" stroke="none"/>
<circle cx="613.00" cy="459.97" r="3.40" fill="#000" stroke="none"/>
<line x1="433.60" y1="366.86" x2="433.60" y2="412.35" stroke-width="1.4"/>
<line x1="430.60" y1="366.86" x2="436.60" y2="366.86" stroke-width="1.4"/>
<line x1="430.60" y1="412.35" x2="436.60" y2="412.35" stroke-width="1.4"/>
<line x1="493.40" y1="416.60" x2="493.40" y2="450.19" stroke-width="1.4"/>
<line x1="490.40" y1="416.60" x2="496.40" y2="416.60" stroke-width="1.4"/>
<line x1="490.40" y1="450.19" x2="496.40" y2="450.19" stroke-width="1.4"/>
<line x1="553.20" y1="443.39" x2="553.20" y2="463.37" stroke-width="1.4"/>
<line x1="550.20" y1="443.39" x2="556.20" y2="443.39" stroke-width="1.4"/>
<line x1="550.20" y1="463.37" x2="556.20" y2="463.37" stroke-width="1.4"/>
<line x1="613.00" y1="447.64" x2="613.00" y2="450.19" stroke-width="1.4"/>
<line x1="610.00" y1="447.64" x2="616.00" y2="447.64" stroke-width="1.4"/>
<line x1="610.00" y1="450.19" x2="616.00" y2="450.19" stroke-width="1.4"/>
<polyline points="433.60,392.37 493.40,442.11 553.20,460.82 613.00,448.91" fill="none" stroke-width="1.4"/>
<circle cx="433.60" cy="392.37" r="2.90" fill="#fff" stroke="#000" stroke-width="1"/>
<circle cx="493.40" cy="442.11" r="2.90" fill="#fff" stroke="#000" stroke-width="1"/>
<circle cx="553.20" cy="460.82" r="2.90" fill="#fff" stroke="#000" stroke-width="1"/>
<circle cx="613.00" cy="448.91" r="2.90" fill="#fff" stroke="#000" stroke-width="1"/>
<line x1="433.60" y1="356.23" x2="433.60" y2="412.35" stroke-width="1.4"/>
<line x1="430.60" y1="356.23" x2="436.60" y2="356.23" stroke-width="1.4"/>
<line x1="430.60" y1="412.35" x2="436.60" y2="412.35" stroke-width="1.4"/>
<line x1="493.40" y1="416.60" x2="493.40" y2="448.91" stroke-width="1.4"/>
<line x1="490.40" y1="416.60" x2="496.40" y2="416.60" stroke-width="1.4"/>
<line x1="490.40" y1="448.91" x2="496.40" y2="448.91" stroke-width="1.4"/>
<line x1="553.20" y1="440.41" x2="553.20" y2="460.82" stroke-width="1.4"/>
<line x1="550.20" y1="440.41" x2="556.20" y2="440.41" stroke-width="1.4"/>
<line x1="550.20" y1="460.82" x2="556.20" y2="460.82" stroke-width="1.4"/>
<line x1="613.00" y1="454.02" x2="613.00" y2="463.37" stroke-width="1.4"/>
<line x1="610.00" y1="454.02" x2="616.00" y2="454.02" stroke-width="1.4"/>
<line x1="610.00" y1="463.37" x2="616.00" y2="463.37" stroke-width="1.4"/>
<polyline points="433.60,389.39 493.40,435.74 553.20,450.19 613.00,455.72" fill="none" stroke-width="1.4"/>
<path d="M430.60,387.56 L436.60,387.56 L433.60,392.72 Z" fill="#000" stroke="none"/>
<path d="M490.40,433.90 L496.40,433.90 L493.40,439.06 Z" fill="#000" stroke="none"/>
<path d="M550.20,448.36 L556.20,448.36 L553.20,453.52 Z" fill="#000" stroke="none"/>
<path d="M610.00,453.89 L616.00,453.89 L613.00,459.05 Z" fill="#000" stroke="none"/>
<text transform="translate(73.40,19.50) scale(1,1.04)" text-anchor="middle" font-size="13" >A</text>
<text transform="translate(404.00,19.50) scale(1,1.04)" text-anchor="middle" font-size="13" >B</text>
<line x1="150.20" y1="14.20" x2="178.30" y2="14.20" stroke-width="1.4"/>
<circle cx="164.25" cy="14.20" r="4.40" fill="#000" stroke="none"/>
<text transform="translate(185.30,18.70) scale(1,1.04)" text-anchor="start" font-size="12" >Non-Bt rice</text>
<line x1="150.20" y1="29.20" x2="178.30" y2="29.20" stroke-width="1.4"/>
<circle cx="164.25" cy="29.20" r="3.90" fill="#fff" stroke="#000" stroke-width="1"/>
<text transform="translate(185.30,33.70) scale(1,1.04)" text-anchor="start" font-size="12" >Cry1C rice</text>
<line x1="150.20" y1="44.20" x2="178.30" y2="44.20" stroke-width="1.4"/>
<path d="M159.85,41.51 L168.65,41.51 L164.25,49.08 Z" fill="#000" stroke="none"/>
<text transform="translate(185.30,48.70) scale(1,1.04)" text-anchor="start" font-size="12" >Cry2A rice</text>
<line x1="473.80" y1="20.70" x2="501.80" y2="20.70" stroke-width="1.4"/>
<circle cx="487.80" cy="20.70" r="4.40" fill="#000" stroke="none"/>
<text transform="translate(508.80,25.20) scale(1,1.04)" text-anchor="start" font-size="12" >Non-Bt rice</text>
<line x1="473.80" y1="35.70" x2="501.80" y2="35.70" stroke-width="1.4"/>
<circle cx="487.80" cy="35.70" r="3.90" fill="#fff" stroke="#000" stroke-width="1"/>
<text transform="translate(508.80,40.20) scale(1,1.04)" text-anchor="start" font-size="12" >Cry1C rice</text>
<line x1="473.80" y1="50.70" x2="501.80" y2="50.70" stroke-width="1.4"/>
<path d="M483.40,48.01 L492.20,48.01 L487.80,55.58 Z" fill="#000" stroke="none"/>
<text transform="translate(508.80,55.20) scale(1,1.04)" text-anchor="start" font-size="12" >Cry2A rice</text>
<text transform="translate(102.10,499.60) scale(1,1.04)" text-anchor="middle" font-size="12" >8.22</text>
<text transform="translate(161.70,499.60) scale(1,1.04)" text-anchor="middle" font-size="12" >9.4</text>
<text transform="translate(221.30,499.60) scale(1,1.04)" text-anchor="middle" font-size="12" >9.17</text>
<text transform="translate(280.90,499.60) scale(1,1.04)" text-anchor="middle" font-size="12" >9.30</text>
<text transform="translate(433.60,499.40) scale(1,1.04)" text-anchor="middle" font-size="12" >8.21</text>
<text transform="translate(493.40,499.40) scale(1,1.04)" text-anchor="middle" font-size="12" >9.3</text>
<text transform="translate(553.20,499.40) scale(1,1.04)" text-anchor="middle" font-size="12" >9.16</text>
<text transform="translate(613.00,499.40) scale(1,1.04)" text-anchor="middle" font-size="12" >9.29</text>
<text transform="translate(191.60,521.30) scale(1,1.04)" text-anchor="middle" font-size="12" >Sampling date</text>
<text transform="translate(523.30,521.30) scale(1,1.04)" text-anchor="middle" font-size="12" >Sampling date</text>
<text transform="translate(11.00,81.85) rotate(-90) scale(1.013,1.02)" x="0" y="0" text-anchor="middle" font-size="12">No. of <tspan font-style="italic">N. lugens</tspan> per hill</text>
<text transform="translate(10.30,244.10) rotate(-90) scale(1.028,1.02)" x="0" y="0" text-anchor="middle" font-size="12">No. of <tspan font-style="italic">P. flavifemur</tspan> per hill</text>
<text transform="translate(10.80,405.10) rotate(-90) scale(1.028,1.02)" x="0" y="0" text-anchor="middle" font-size="12">Ratio of <tspan font-style="italic">N. lugens</tspan> vs <tspan font-style="italic">P. flavifemur</tspan></text>
</g>
</svg>
</body></html>
